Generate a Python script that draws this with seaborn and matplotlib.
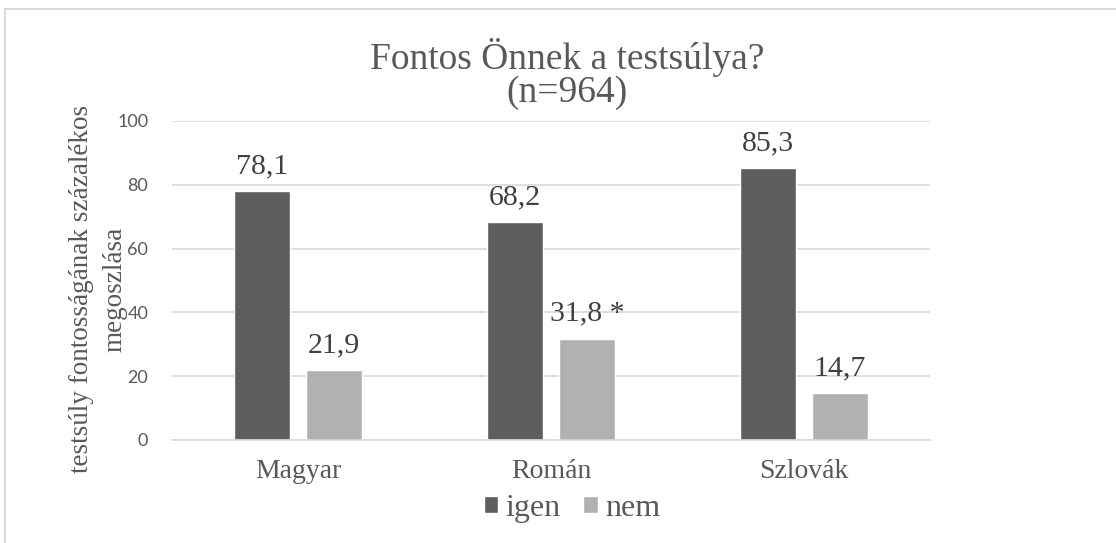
import pandas as pd
import matplotlib
matplotlib.use("Agg")
import matplotlib.pyplot as plt
from matplotlib.lines import Line2D
import seaborn as sns

# data
groups = ["Magyar", "Román", "Szlovák"]
answers = ["igen", "nem"]
igen_vals = [78.1, 68.2, 85.3]
nem_vals = [21.9, 31.8, 14.7]
igen_labels = ["78,1", "68,2", "85,3"]
nem_labels = ["21,9", "31,8 *", "14,7"]
yticks = [0, 20, 40, 60, 80, 100]

df = pd.DataFrame({
    "group": groups * 2,
    "answer": [answers[0]] * 3 + [answers[1]] * 3,
    "value": igen_vals + nem_vals,
})

sns.set_style("white")
serif = ["Liberation Serif", "DejaVu Serif"]
txt = "#595959"

fig = plt.figure(figsize=(11.16, 5.43), dpi=100)
ax = fig.add_axes([0.1541, 0.1897, 0.6792, 0.5875])

sns.barplot(data=df, x="group", y="value", hue="answer", order=groups,
            hue_order=answers, palette=["#5e5e5e", "#b1b1b1"],
            width=0.57, gap=0.22, ax=ax, legend=True)

for cont, labs in zip(ax.containers, [igen_labels, nem_labels]):
    ax.bar_label(cont, labels=labs, padding=8.5, fontsize=21.5,
                 family=serif, color="#404040")

ax.set_ylim(0, 100)
ax.set_yticks(yticks)
ax.yaxis.grid(True, color="#d9d9d9", linewidth=1.2)
ax.set_axisbelow(True)
for s in ["top", "right", "left"]:
    ax.spines[s].set_visible(False)
ax.spines["bottom"].set_color("#d9d9d9")
ax.spines["bottom"].set_linewidth(1.2)
ax.tick_params(axis="both", length=0)
ax.tick_params(axis="y", labelsize=13, labelcolor=txt, pad=17)
for t in ax.get_yticklabels():
    t.set_family(["Lato", "DejaVu Sans"])
ax.tick_params(axis="x", labelsize=20, labelcolor=txt, pad=14)
for t in ax.get_xticklabels():
    t.set_family(serif)

ax.set_xlabel("")
ax.set_ylabel("testsúly fontosságának százalékos\nmegoszlása", fontsize=19.5,
              family=serif, color=txt, linespacing=1.45,
              va="center", ha="center")
ax.yaxis.set_label_coords(-0.0976, 0.473)

fig.text(0.508, 0.812, "Fontos Önnek a testsúlya?\n(n=964)", fontsize=27,
         family=serif, color=txt, ha="center", va="baseline",
         multialignment="center", linespacing=0.93)

handles, labels = ax.get_legend_handles_labels()
ax.get_legend().remove()
fig.legend(handles, labels, loc="center", bbox_to_anchor=(0.5125, 0.063),
           ncol=2, frameon=False, handlelength=0.45, handleheight=0.45,
           handletextpad=0.22, columnspacing=0.72,
           prop={"family": serif, "size": 23}, labelcolor=txt)

# thin chart border at top and left
fig.add_artist(Line2D([0.0045, 1.0], [0.983, 0.983], color="#d9d9d9", lw=1.5))
fig.add_artist(Line2D([0.0045, 0.0045], [0.0, 0.983], color="#d9d9d9", lw=1.5))

fig.savefig("out.png", dpi=100)
